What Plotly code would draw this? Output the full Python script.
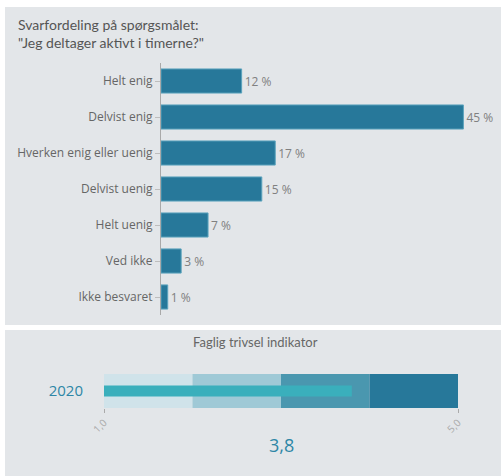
import plotly.graph_objects as go

# ---- data ----
categories = ["Helt enig", "Delvist enig", "Hverken enig eller uenig",
              "Delvist uenig", "Helt uenig", "Ved ikke", "Ikke besvaret"]
shares = [12, 45, 17, 15, 7, 3, 1]

indicator_year = "2020"
indicator_value = 3.8
band_starts = [1, 2, 3, 4]
band_sizes = [1, 1, 1, 1]
band_colors = ["#D0E3EA", "#9FC9D6", "#4A97AF", "#27789A"]
scale_ticks = [1, 5]
scale_ticktext = ["1,0", "5,0"]

W, H = 501, 476
def px(x):
    return x / W
def py(y):
    return 1 - y / H

fig = go.Figure()

fig.add_trace(go.Bar(
    y=categories, x=shares, orientation="h",
    marker=dict(color="#27789A", line=dict(color="#5BA3BD", width=1)),
    width=0.67,
    text=[f"{v} %" for v in shares], textposition="outside",
    textfont=dict(color="#808080", size=12, family="Open Sans"),
    cliponaxis=False, xaxis="x", yaxis="y", hoverinfo="skip",
))

fig.add_trace(go.Bar(
    y=[indicator_year] * 4, x=band_sizes, base=band_starts, orientation="h",
    marker=dict(color=band_colors, line=dict(width=0)),
    width=1.0, xaxis="x2", yaxis="y2", hoverinfo="skip",
))
fig.add_trace(go.Bar(
    y=[indicator_year], x=[indicator_value - 1], base=[1], orientation="h",
    marker=dict(color="#3AAFBC", line=dict(width=0)),
    width=0.32, xaxis="x2", yaxis="y2", hoverinfo="skip",
))

panel_color = "#E3E6E9"
shapes = [
    dict(type="rect", xref="paper", yref="paper", x0=px(5), x1=px(501),
         y0=py(325), y1=py(7), fillcolor=panel_color, line=dict(width=0), layer="below"),
    dict(type="rect", xref="paper", yref="paper", x0=px(5), x1=px(501),
         y0=py(476), y1=py(330), fillcolor=panel_color, line=dict(width=0), layer="below"),
]

annotations = [
    dict(text="Svarfordeling på spørgsmålet:<br>\"Jeg deltager aktivt i timerne?\"",
         xref="paper", yref="paper", x=px(16), y=py(14), xanchor="left", yanchor="top",
         align="left", showarrow=False,
         font=dict(size=14, color="#555555", family="Lato")),
    dict(text="Faglig trivsel indikator", xref="paper", yref="paper",
         x=px(255), y=py(342), xanchor="center", yanchor="middle", showarrow=False,
         font=dict(size=13, color="#666666", family="Lato")),
    dict(text=f"{indicator_value:.1f}".replace(".", ","), xref="x2 domain", yref="paper",
         x=0.5, y=py(445), xanchor="center", yanchor="middle", showarrow=False,
         font=dict(size=18, color="#2E86A6", family="Open Sans")),
]

fig.update_layout(
    template="none",
    width=W, height=H, margin=dict(l=0, r=0, t=0, b=0, autoexpand=False),
    paper_bgcolor="white", plot_bgcolor="rgba(0,0,0,0)",
    showlegend=False, barmode="overlay",
    shapes=shapes, annotations=annotations,
    xaxis=dict(domain=[px(161), px(497)], range=[0, 50], visible=False,
               fixedrange=True, automargin=False),
    yaxis=dict(domain=[py(315), py(63)], autorange="reversed", type="category",
               showline=True, linecolor="#A9A9A9", linewidth=1,
               ticks="outside", ticklen=5, tickcolor="#BDBDBD",
               tickfont=dict(size=12, color="#666666", family="Open Sans"),
               showgrid=False, zeroline=False, anchor="x", fixedrange=True,
               automargin=False),
    xaxis2=dict(domain=[px(104), px(458)], range=[1, 5], anchor="y2",
                tickvals=scale_ticks, ticktext=scale_ticktext, tickangle=-45,
                ticks="outside", ticklen=4, tickcolor="#AAAAAA",
                tickfont=dict(size=10, color="#AAAAAA", family="Open Sans"),
                showgrid=False, zeroline=False, showline=False, fixedrange=True,
                automargin=False),
    yaxis2=dict(domain=[py(408), py(374)], range=[-0.5, 0.5], anchor="x2",
                type="category",
                tickfont=dict(size=15, color="#2E86A6", family="Open Sans"),
                ticklabelstandoff=20, ticks="", showgrid=False, zeroline=False,
                showline=False, fixedrange=True, automargin=False),
)

fig.write_html("out.html", config={"displayModeBar": False},
               post_script="document.body.style.margin='0';document.body.style.overflow='hidden';")
